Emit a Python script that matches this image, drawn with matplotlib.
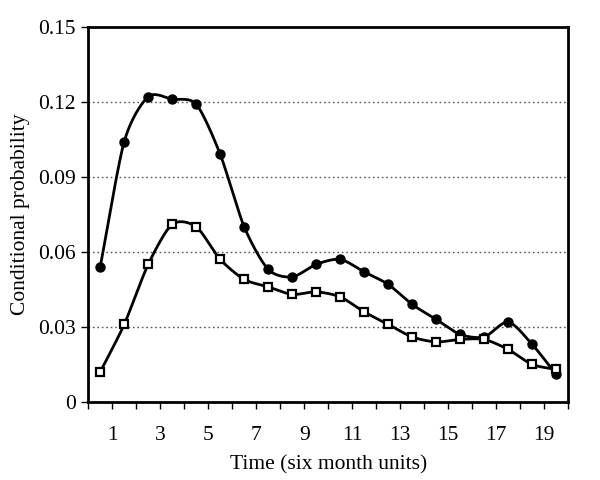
import numpy as np
import matplotlib
matplotlib.use("Agg")
import matplotlib.pyplot as plt
from matplotlib.ticker import FixedLocator, FuncFormatter

plt.rcParams['font.family'] = ['Liberation Serif', 'DejaVu Serif']

time_points = [0.5, 1.5, 2.5, 3.5, 4.5, 5.5, 6.5, 7.5, 8.5, 9.5,
               10.5, 11.5, 12.5, 13.5, 14.5, 15.5, 16.5, 17.5, 18.5, 19.5]
series_circle = [0.054, 0.104, 0.122, 0.121, 0.119, 0.099, 0.070, 0.053, 0.050, 0.055,
                 0.057, 0.052, 0.047, 0.039, 0.033, 0.027, 0.026, 0.032, 0.023, 0.011]
series_square = [0.012, 0.031, 0.055, 0.071, 0.070, 0.057, 0.049, 0.046, 0.043, 0.044,
                 0.042, 0.036, 0.031, 0.026, 0.024, 0.025, 0.025, 0.021, 0.015, 0.013]
xtick_labels = ['1', '3', '5', '7', '9', '11', '13', '15', '17', '19']
ytick_values = [0, 0.03, 0.06, 0.09, 0.12, 0.15]


def smooth(x, y, n=20, tension=0.8):
    # Catmull-Rom style curve through the points (like a smoothed line chart)
    x = np.asarray(x, float); y = np.asarray(y, float)
    px = np.concatenate([[2*x[0]-x[1]], x, [2*x[-1]-x[-2]]])
    py = np.concatenate([[2*y[0]-y[1]], y, [2*y[-1]-y[-2]]])
    xs, ys = [], []
    t = np.linspace(0, 1, n, endpoint=False)
    for i in range(1, len(px)-2):
        p0, p1, p2, p3 = [np.array([px[j], py[j]]) for j in (i-1, i, i+1, i+2)]
        m1 = tension * 0.5 * (p2 - p0)
        m2 = tension * 0.5 * (p3 - p1)
        h00 = 2*t**3 - 3*t**2 + 1
        h10 = t**3 - 2*t**2 + t
        h01 = -2*t**3 + 3*t**2
        h11 = t**3 - t**2
        pts = (np.outer(h00, p1) + np.outer(h10, m1) + np.outer(h01, p2) + np.outer(h11, m2))
        xs.append(pts[:, 0]); ys.append(pts[:, 1])
    xs.append([x[-1]]); ys.append([y[-1]])
    return np.concatenate(xs), np.concatenate(ys)


fig = plt.figure(figsize=(6, 4.8), dpi=100)
ax = fig.add_axes([0.147, 0.1625, 0.8, 0.782])

ax.set_xlim(0, 20)
ax.set_ylim(0, 0.15)

for yv in ytick_values[1:-1]:
    ax.axhline(yv, color='#555555', lw=1.0, ls=(0, (1.2, 2.0)), zorder=1)

sx, sy = smooth(time_points, series_circle)
ax.plot(sx, sy, color='black', lw=2.0, zorder=3)
ax.plot(time_points, series_circle, ls='none', marker='o', ms=6.5,
        mfc='black', mec='black', zorder=4)

sx, sy = smooth(time_points, series_square)
ax.plot(sx, sy, color='black', lw=2.0, zorder=3)
ax.plot(time_points, series_square, ls='none', marker='s', ms=5.5,
        mfc='white', mec='black', mew=1.6, zorder=4)

ax.xaxis.set_major_locator(FixedLocator([1, 3, 5, 7, 9, 11, 13, 15, 17, 19]))
ax.set_xticklabels(xtick_labels)
ax.xaxis.set_minor_locator(FixedLocator(list(range(0, 21))))
ax.set_yticks(ytick_values)
ax.yaxis.set_major_formatter(FuncFormatter(lambda v, p: '0' if v == 0 else f'{v:.2f}'))

ax.tick_params(axis='both', which='both', direction='out', labelsize=15.5, width=1.0)
ax.tick_params(axis='x', which='major', length=5, pad=12)
ax.tick_params(axis='x', which='minor', length=5)
ax.tick_params(axis='y', which='major', length=5, pad=4)

for s in ax.spines.values():
    s.set_linewidth(2.0)

ax.set_xlabel('Time (six month units)', fontsize=15.5, labelpad=8)
ax.set_ylabel('Conditional probability', fontsize=15.5, labelpad=6)

fig.savefig('out.png', dpi=100)
